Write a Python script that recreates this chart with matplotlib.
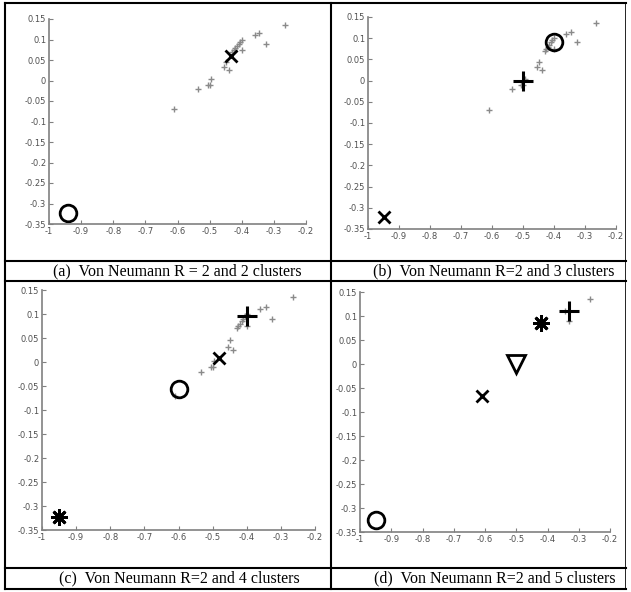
import matplotlib.pyplot as plt
from matplotlib.lines import Line2D
from matplotlib.ticker import FuncFormatter

W, H = 631, 592

# data points (gray +)
data_x = [-0.61, -0.535, -0.505, -0.5, -0.495, -0.455, -0.45, -0.44, -0.43, -0.425,
          -0.42, -0.415, -0.41, -0.405, -0.40, -0.40, -0.36, -0.345, -0.325, -0.265]
data_y = [-0.07, -0.02, -0.01, -0.01, 0.003, 0.032, 0.045, 0.025, 0.07, 0.075,
          0.08, 0.085, 0.09, 0.095, 0.1, 0.075, 0.11, 0.115, 0.09, 0.135]
# points still visible in panel (d)
d_x = [-0.345, -0.33, -0.265]
d_y = [0.11, 0.09, 0.135]

# cluster centres per panel: (x, y, marker)
centres_a = [(-0.435, 0.06, 'x'), (-0.94, -0.322, 'o')]
centres_b = [(-0.50, -0.002, '+'), (-0.40, 0.09, 'o'), (-0.95, -0.322, 'x')]
centres_c = [(-0.40, 0.095, '+'), (-0.48, 0.008, 'x'), (-0.60, -0.057, 'o'),
             (-0.95, -0.322, '*')]
centres_d = [(-0.33, 0.11, '+'), (-0.42, 0.085, '*'), (-0.50, 0.0, 'v'),
             (-0.61, -0.066, 'x'), (-0.95, -0.325, 'o')]

captions = ['(a)  Von Neumann R = 2 and 2 clusters',
            '(b)  Von Neumann R=2 and 3 clusters',
            '(c)  Von Neumann R=2 and 4 clusters',
            '(d)  Von Neumann R=2 and 5 clusters']

x_ticks = [-1, -0.9, -0.8, -0.7, -0.6, -0.5, -0.4, -0.3, -0.2]
y_ticks = [-0.35, -0.3, -0.25, -0.2, -0.15, -0.1, -0.05, 0, 0.05, 0.1, 0.15]

plt.rcParams['axes.unicode_minus'] = False

fig = plt.figure(figsize=(W / 100, H / 100), dpi=100)


def box(l, t, r, b):
    return [l / W, 1 - b / H, (r - l) / W, (b - t) / H]


# axes boxes in pixels (left, top, right, bottom)
boxes = [(49, 19, 306, 224), (368, 17, 616, 229), (42, 290, 315, 530), (360, 292, 610, 532)]
centres = [centres_a, centres_b, centres_c, centres_d]
points = [(data_x, data_y)] * 3 + [(d_x, d_y)]

marker_style = {
    'x': dict(marker='x', ms=8, mew=2),
    'o': dict(marker='o', ms=12, mew=2, mfc='none'),
    '+': dict(marker='+', ms=14, mew=2.2),
    '*': dict(marker=(8, 2, 0), ms=12, mew=2),
    'v': dict(marker='v', ms=13, mew=2, mfc='none'),
}

fmt = FuncFormatter(lambda v, p: ('%g' % round(v, 2)))

for bx, cs, (px, py) in zip(boxes, centres, points):
    ax = fig.add_axes(box(*bx))
    ax.plot(px, py, '+', color='#8a8a8a', ms=4, mew=1)
    for cx, cy, m in cs:
        ax.plot(cx, cy, linestyle='none', color='black', mec='black', **marker_style[m])
    ax.set_xlim(-1, -0.2)
    ax.set_ylim(-0.35, 0.15)
    ax.set_xticks(x_ticks)
    ax.set_yticks(y_ticks)
    ax.xaxis.set_major_formatter(fmt)
    ax.yaxis.set_major_formatter(fmt)
    for s in ['top', 'right']:
        ax.spines[s].set_visible(False)
    for s in ['left', 'bottom']:
        ax.spines[s].set_color('#808080')
        ax.spines[s].set_linewidth(1.2)
    ax.tick_params(direction='in', length=3, width=0.8, color='#808080',
                   labelsize=6, labelcolor='#505050', pad=2)

# table lines
def hline(y, x0, x1, lw=1.5):
    fig.add_artist(Line2D([x0 / W, x1 / W], [1 - y / H, 1 - y / H], color='black', lw=lw))


def vline(x, y0, y1, lw=1.5):
    fig.add_artist(Line2D([x / W, x / W], [1 - y0 / H, 1 - y1 / H], color='black', lw=lw))


for y in [3, 261, 281, 568, 589]:
    hline(y, 5, 626)
vline(5, 3, 589)
vline(331, 3, 589)
vline(625, 3, 589, lw=0.6)

cap_pos = [(177, 271), (494, 271), (179, 578), (495, 578)]
for (cx, cy), txt in zip(cap_pos, captions):
    fig.text(cx / W, 1 - cy / H, txt, ha='center', va='center',
             family='Liberation Serif', fontsize=11.5)

fig.savefig('out.png', dpi=100)
